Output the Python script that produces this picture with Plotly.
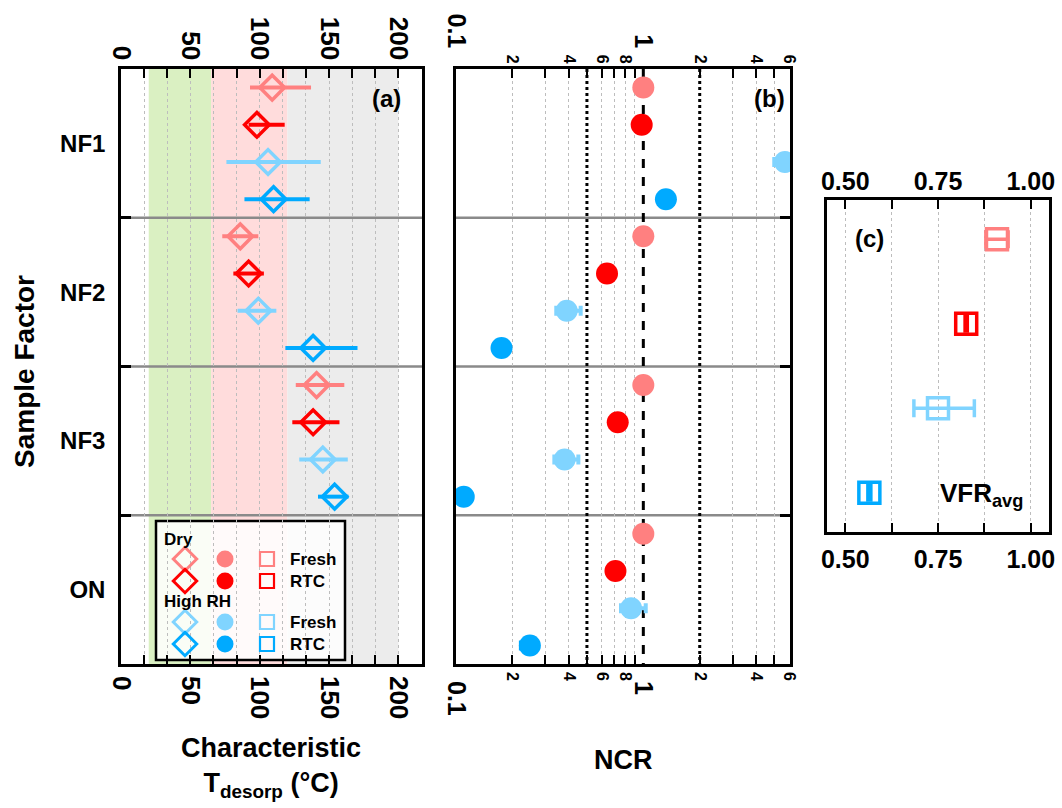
import plotly.graph_objects as go

# ---------------- data ----------------
CATEGORIES = ["NF1", "NF2", "NF3", "ON"]
SERIES = ["Dry Fresh", "Dry RTC", "High RH Fresh", "High RH RTC"]
COLORS = ["#FF8080", "#FF0000", "#80D4FF", "#00AAFF"]

# Panel (a): characteristic desorption temperature (°C), per category (ON not shown)
T_DRY_FRESH = [109, 86, 141, None]
T_DRY_FRESH_MINUS = [16, 13, 15, None]
T_DRY_FRESH_PLUS = [28, 13, 20, None]
T_DRY_RTC = [98, 92, 138.5, None]
T_DRY_RTC_MINUS = [6, 11, 15, None]
T_DRY_RTC_PLUS = [20, 11, 19, None]
T_HRH_FRESH = [106, 99, 145.5, None]
T_HRH_FRESH_MINUS = [30, 15, 17, None]
T_HRH_FRESH_PLUS = [38, 13, 18, None]
T_HRH_RTC = [110, 138.5, 154, None]
T_HRH_RTC_MINUS = [21, 20, 12, None]
T_HRH_RTC_PLUS = [26, 32, 10, None]

# Panel (b): NCR
NCR_DRY_FRESH = [1.0, 1.0, 1.0, 1.0]
NCR_DRY_RTC = [0.98, 0.64, 0.73, 0.71]
NCR_HRH_FRESH = [5.7, 0.39, 0.38, 0.86]
NCR_HRH_FRESH_MINUS = [0.7, 0.047, 0.045, 0.10]
NCR_HRH_FRESH_PLUS = [0.3, 0.073, 0.07, 0.17]
NCR_HRH_RTC = [1.32, 0.175, 0.11, 0.248]
NCR_HRH_RTC_MINUS = [0.06, 0.012, 0.006, 0.026]
NCR_HRH_RTC_PLUS = [0.0, 0.0, 0.0, 0.0]

# Panel (c): VFR_avg
VFR = [0.909, 0.826, 0.75, 0.565]
VFR_MINUS = [0.03, 0.003, 0.065, 0.004]
VFR_PLUS = [0.03, 0.003, 0.098, 0.004]

# Temperature regions in panel (a)
REGION_BOUNDS = [20, 65, 120, 200]
REGION_COLORS = ["#DAF0C2", "#FFDCDC", "#ECECEC"]

# NCR reference lines
NCR_REF_DASH = [1.0]
NCR_REF_DOT = [0.5, 2.0]

# Tick labels
A_TICKS = [0, 50, 100, 150, 200]
B_SMALL_TICKS = [0.2, 0.4, 0.6, 0.8, 2, 4, 6]
B_SMALL_TEXT = ["2", "4", "6", "8", "2", "4", "6"]
B_MINOR_TICKS = [0.3, 0.5, 0.7, 0.9, 3, 5]
B_BIG_TICKS = [0.1, 1]
B_BIG_TEXT = ["0.1", "1"]
C_TICKS = [0.5, 0.75, 1.0]
C_TEXT = ["0.50", "0.75", "1.00"]
C_MINOR = [0.625, 0.875]

# Legend layout (pixel grid within the legend box)
LEG_COLS = [29, 69, 111, 132]
LEG_ROWS = [38, 60, 101, 123]
LEG_HEAD_ROWS = [18, 80]
LEG_HEADERS = ["Dry", "High RH"]
LEG_LABELS = ["Fresh", "RTC", "Fresh", "RTC"]

FONT = "Liberation Sans, Arial, sans-serif"
W, H = 1062, 808

def px_x(a, b):
    return [a / W, b / W]

def px_y(top, bottom):
    return [1 - bottom / H, 1 - top / H]

n_per = len(SERIES)
def ypos(si):
    return [n_per * gi + si + 0.5 for gi in range(len(CATEGORIES))]

fig = go.Figure()

# ---- panel (a) ----
t_vals = [T_DRY_FRESH, T_DRY_RTC, T_HRH_FRESH, T_HRH_RTC]
t_minus = [T_DRY_FRESH_MINUS, T_DRY_RTC_MINUS, T_HRH_FRESH_MINUS, T_HRH_RTC_MINUS]
t_plus = [T_DRY_FRESH_PLUS, T_DRY_RTC_PLUS, T_HRH_FRESH_PLUS, T_HRH_RTC_PLUS]
for si in range(n_per):
    fig.add_trace(go.Scatter(
        x=t_vals[si], y=ypos(si), mode="markers", xaxis="x", yaxis="y",
        marker=dict(symbol="diamond-open", size=19, color=COLORS[si], line=dict(width=3.5, color=COLORS[si])),
        error_x=dict(type="data", symmetric=False, array=t_plus[si], arrayminus=t_minus[si],
                     color=COLORS[si], thickness=4, width=0),
        showlegend=False, hoverinfo="skip"))

# ---- panel (b) ----
for xv, dash in [(v, "dot") for v in NCR_REF_DOT] + [(v, "dash") for v in NCR_REF_DASH]:
    fig.add_trace(go.Scatter(x=[xv, xv], y=[0, n_per * len(CATEGORIES)], mode="lines",
                             xaxis="x2", yaxis="y2", line=dict(color="black", width=3, dash=dash),
                             showlegend=False, hoverinfo="skip"))
n_vals = [NCR_DRY_FRESH, NCR_DRY_RTC, NCR_HRH_FRESH, NCR_HRH_RTC]
n_minus = [None, None, NCR_HRH_FRESH_MINUS, NCR_HRH_RTC_MINUS]
n_plus = [None, None, NCR_HRH_FRESH_PLUS, NCR_HRH_RTC_PLUS]
for si in range(n_per):
    err = None
    if n_minus[si] is not None:
        err = dict(type="data", symmetric=False, array=n_plus[si], arrayminus=n_minus[si],
                   color=COLORS[si], thickness=4, width=5)
    fig.add_trace(go.Scatter(
        x=n_vals[si], y=ypos(si), mode="markers", xaxis="x2", yaxis="y2",
        marker=dict(symbol="circle", size=22, color=COLORS[si]),
        error_x=err, showlegend=False, hoverinfo="skip"))

# ---- panel (c) ----
for si in range(n_per):
    fig.add_trace(go.Scatter(
        x=[VFR[si]], y=[si], mode="markers", xaxis="x3", yaxis="y3",
        marker=dict(symbol="square-open", size=21, color=COLORS[si], line=dict(width=3.5, color=COLORS[si])),
        error_x=dict(type="data", symmetric=False, array=[VFR_PLUS[si]], arrayminus=[VFR_MINUS[si]],
                     color=COLORS[si], thickness=3.5, width=9),
        showlegend=False, hoverinfo="skip"))

# ---- empty traces so the mirrored (overlay) axes get drawn ----
for xa, ya in [("x4", "y"), ("x5", "y2"), ("x6", "y2"), ("x7", "y2"), ("x8", "y3")]:
    fig.add_trace(go.Scatter(x=[None], y=[None], mode="markers", xaxis=xa, yaxis=ya,
                             showlegend=False, hoverinfo="skip"))

# ---- legend glyphs ----
leg_symbols = ["diamond-open", "circle", "square-open"]
leg_sizes = [18, 17, 14]
leg_lw = [3, 0, 2.2]
for ri in range(n_per):
    for ci in range(3):
        fig.add_trace(go.Scatter(
            x=[LEG_COLS[ci]], y=[LEG_ROWS[ri]], mode="markers", xaxis="x9", yaxis="y9",
            marker=dict(symbol=leg_symbols[ci], size=leg_sizes[ci], color=COLORS[ri],
                        line=dict(width=leg_lw[ci], color=COLORS[ri])),
            showlegend=False, hoverinfo="skip"))

# ---------------- layout ----------------
a_dom = px_x(121, 422)
b_dom = px_x(456, 790)
c_dom = px_x(826.7, 1049.3)
ab_ydom = px_y(69, 664)
c_ydom = px_y(200, 531.7)
leg_x = px_x(156, 345)
leg_y = px_y(521, 660)

grid = dict(showgrid=True, gridcolor="#BDBDBD", griddash="dot", gridwidth=1)
line = dict(showline=True, linecolor="black", linewidth=2.5)
tick = dict(ticks="inside", ticklen=9, tickwidth=2, tickcolor="black")
nrows = n_per * len(CATEGORIES)
A_FS, B_SMALL_FS, B_BIG_FS, C_FS, CAT_FS, TITLE_FS = 26, 16, 25, 25, 24, 27

layout = dict(
    width=W, height=H, margin=dict(l=0, r=0, t=0, b=0, autoexpand=False),
    paper_bgcolor="white", plot_bgcolor="rgba(0,0,0,0)",
    font=dict(family=FONT, color="black"),
    showlegend=False,
    # panel (a)
    xaxis=dict(domain=a_dom, anchor="y", range=[0, 217], tickmode="array", tickvals=A_TICKS,
               tickangle=90, tickfont=dict(size=A_FS, weight="bold"), mirror=True, automargin=False,
               minor=dict(dtick=50 / 3, tick0=0, ticks="inside", ticklen=9, tickwidth=2, tickcolor="black",
                          showgrid=True, gridcolor="#BDBDBD", griddash="dot"),
               ticklabelstandoff=4, **grid, **line, **tick),
    xaxis4=dict(overlaying="x", matches="x", anchor="y", side="top", range=[0, 217], tickmode="array",
                tickvals=A_TICKS, tickangle=90, tickfont=dict(size=A_FS, weight="bold"), showgrid=False,
                automargin=False,
                minor=dict(dtick=50 / 3, tick0=0, ticks="inside", ticklen=9, tickwidth=2, tickcolor="black"),
                ticklabelstandoff=4, **tick),
    yaxis=dict(domain=ab_ydom, anchor="x", range=[nrows, 0], tickmode="array",
               tickvals=[n_per * gi + n_per / 2 for gi in range(len(CATEGORIES))], ticktext=CATEGORIES,
               ticks="", tickfont=dict(size=CAT_FS, weight="bold"), mirror=True, showgrid=False,
               automargin=False,
               minor=dict(tickvals=[n_per * gi for gi in range(1, len(CATEGORIES))], ticks="inside",
                          ticklen=10, tickwidth=3, tickcolor="black"),
               ticklabelstandoff=8, **line),
    # panel (b)
    xaxis2=dict(domain=b_dom, anchor="y2", type="log", range=[-1, 0.783], tickmode="array",
                tickvals=B_SMALL_TICKS, ticktext=B_SMALL_TEXT, tickangle=90,
                tickfont=dict(size=B_SMALL_FS, weight="bold"), mirror=True, automargin=False,
                minor=dict(tickvals=B_MINOR_TICKS, ticks="inside", ticklen=9, tickwidth=2, tickcolor="black",
                           showgrid=True, gridcolor="#BDBDBD", griddash="dot"),
                ticklabelstandoff=2, **grid, **line, **tick),
    xaxis5=dict(overlaying="x2", matches="x2", anchor="y2", side="bottom", type="log", range=[-1, 0.783],
                tickmode="array", tickvals=B_BIG_TICKS, ticktext=B_BIG_TEXT, tickangle=90, automargin=False,
                tickfont=dict(size=B_BIG_FS, weight="bold"), ticks="", showgrid=False, ticklabelstandoff=16),
    xaxis6=dict(overlaying="x2", matches="x2", anchor="y2", side="top", type="log", range=[-1, 0.783],
                tickmode="array", tickvals=B_SMALL_TICKS, ticktext=B_SMALL_TEXT, tickangle=90,
                tickfont=dict(size=B_SMALL_FS, weight="bold"), showgrid=False, automargin=False,
                minor=dict(tickvals=B_MINOR_TICKS, ticks="inside", ticklen=9, tickwidth=2, tickcolor="black"),
                ticklabelstandoff=2, **tick),
    xaxis7=dict(overlaying="x2", matches="x2", anchor="y2", side="top", type="log", range=[-1, 0.783],
                tickmode="array", tickvals=B_BIG_TICKS, ticktext=B_BIG_TEXT, tickangle=90, automargin=False,
                tickfont=dict(size=B_BIG_FS, weight="bold"), ticks="", showgrid=False, ticklabelstandoff=16),
    yaxis2=dict(domain=ab_ydom, anchor="x2", side="right", range=[nrows, 0], showticklabels=False,
                ticks="", mirror=True, showgrid=False, automargin=False,
                minor=dict(tickvals=[n_per * gi for gi in range(1, len(CATEGORIES))], ticks="inside",
                           ticklen=10, tickwidth=3, tickcolor="black"),
                **line),
    # panel (c)
    xaxis3=dict(domain=c_dom, anchor="y3", range=[0.45, 1.05], tickmode="array", tickvals=C_TICKS,
                ticktext=C_TEXT, tickfont=dict(size=C_FS, weight="bold"), mirror=True, automargin=False,
                minor=dict(tickvals=C_MINOR, ticks="inside", ticklen=9, tickwidth=2, tickcolor="black",
                           showgrid=True, gridcolor="#BDBDBD", griddash="dot"),
                ticklabelstandoff=4, **grid, **line, **tick),
    xaxis8=dict(overlaying="x3", matches="x3", anchor="y3", side="top", range=[0.45, 1.05], tickmode="array",
                tickvals=C_TICKS, ticktext=C_TEXT, tickfont=dict(size=C_FS, weight="bold"), showgrid=False,
                automargin=False,
                minor=dict(tickvals=C_MINOR, ticks="inside", ticklen=9, tickwidth=2, tickcolor="black"),
                ticklabelstandoff=4, **tick),
    yaxis3=dict(domain=c_ydom, anchor="x3", range=[3.46, -0.465], showticklabels=False, ticks="",
                mirror=True, showgrid=False, automargin=False, **line),
    # legend box axes
    xaxis9=dict(domain=leg_x, anchor="y9", range=[0, 189], visible=False, automargin=False),
    yaxis9=dict(domain=leg_y, anchor="x9", range=[139, 0], visible=False, automargin=False),
)
fig.update_layout(**layout)

shapes = []
for i, col in enumerate(REGION_COLORS):
    shapes.append(dict(type="rect", xref="x", yref="y domain", x0=REGION_BOUNDS[i], x1=REGION_BOUNDS[i + 1],
                       y0=0, y1=1, fillcolor=col, line=dict(width=0), layer="below"))
for ax in ["x", "x2"]:
    yr = "y" if ax == "x" else "y2"
    for gi in range(1, len(CATEGORIES)):
        shapes.append(dict(type="line", xref=f"{ax} domain", yref=yr, x0=0, x1=1, y0=n_per * gi, y1=n_per * gi,
                           line=dict(color="#8A8A8A", width=2.5), layer="below"))
shapes.append(dict(type="rect", xref="x9 domain", yref="y9 domain", x0=0, x1=1, y0=0, y1=1,
                   fillcolor="rgba(255,255,255,0.85)", line=dict(color="black", width=2.5), layer="below"))
fig.update_layout(shapes=shapes)

ann = []
def add_text(text, x, y, xref, yref, size, xanchor="center", yanchor="middle", angle=0):
    ann.append(dict(text=text, x=x, y=y, xref=xref, yref=yref, showarrow=False, xanchor=xanchor,
                    yanchor=yanchor, textangle=angle, font=dict(size=size, weight="bold", family=FONT, color="black")))

add_text("(a)", 0.937, 0.951, "x domain", "y domain", 24, xanchor="right")
add_text("(b)", 0.99, 0.951, "x2 domain", "y2 domain", 24, xanchor="right")
add_text("(c)", 0.118, 0.885, "x3 domain", "y3 domain", 24, xanchor="left")
add_text("VFR<sub>avg</sub>", 0.5, 0.111, "x3 domain", "y3 domain", 26, xanchor="left")
add_text("Sample Factor", 24 / W, 1 - 372 / H, "paper", "paper", 28, angle=-90)
add_text("Characteristic<br>T<sub>desorp</sub> (°C)", 271 / W, 1 - 767 / H, "paper", "paper", TITLE_FS)
add_text("NCR", 623 / W, 1 - 760 / H, "paper", "paper", TITLE_FS)
for hi, hdr in enumerate(LEG_HEADERS):
    add_text(hdr, 6, LEG_HEAD_ROWS[hi], "x9", "y9", 17, xanchor="left")
for ri, lab in enumerate(LEG_LABELS):
    add_text(lab, LEG_COLS[3], LEG_ROWS[ri], "x9", "y9", 17, xanchor="left")
fig.update_layout(annotations=ann)

fig.write_html("out.html", config={"displayModeBar": False},
               post_script="document.body.style.margin='0px';")
